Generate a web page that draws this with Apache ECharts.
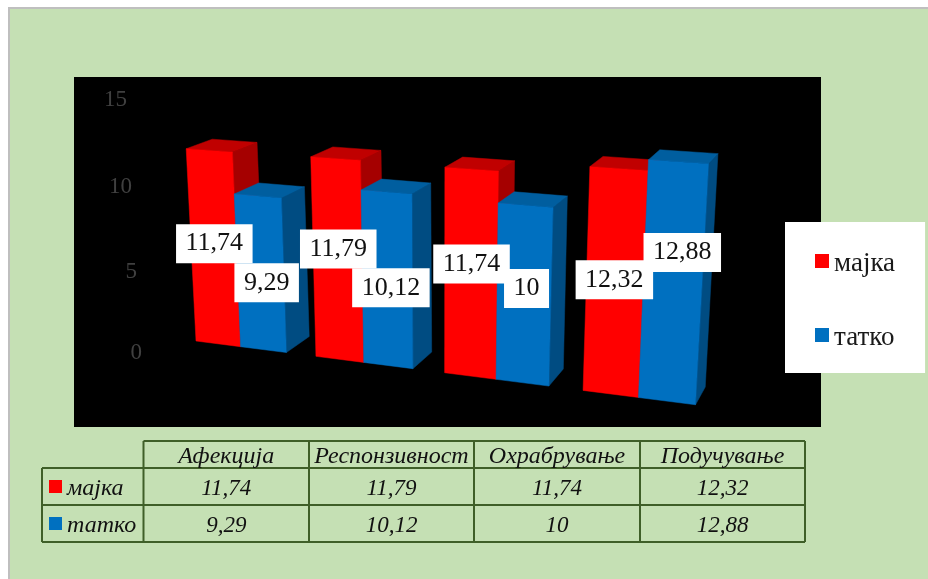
<!DOCTYPE html>
<html>
<head>
<meta charset="utf-8">
<style>html,body{margin:0;padding:0;background:#fff}#chart{width:928px;height:579px}</style>
<script src="https://cdn.jsdelivr.net/npm/echarts@6/dist/echarts.min.js"></script>
</head>
<body>
<div id="chart"></div>
<script>
// Parenting dimensions rated for mother and father
const categories = ['Афекција', 'Респонзивност', 'Охрабрување', 'Подучување'];
const seriesNames = ['мајка', 'татко'];
const motherValues = [11.74, 11.79, 11.74, 12.32];
const fatherValues = [9.29, 10.12, 10, 12.88];
const tickValues = [0, 5, 10, 15];

const RED = { front: '#FF0000', top: '#C00000', side: '#A50000' };
const BLUE = { front: '#0070C0', top: '#005E9F', side: '#004C82' };
const SERIF = '"Liberation Serif", "Times New Roman", serif';

// Camera used to turn (category position, height above the floor) into screen points
const UNIT = 84.33 / 5;
const BAR_SPAN = 0.38;
const VANISH = [1000, -150];
const DEPTH = 0.032;

function project(u, rise) {
  const d = 1 - 0.034 * u - 0.0033 * rise / UNIT;
  return [(196 + 109.2 * u - 1.45 * rise / UNIT) / d, (341 + 3.2 * u - rise) / d];
}
function toBack(p) {
  return [p[0] + (VANISH[0] - p[0]) * DEPTH, p[1] + (VANISH[1] - p[1]) * DEPTH];
}
function barCorners(api, seriesIndex) {
  const cat = api.value(0);
  const base = api.coord([cat, 0]);
  const u = (base[0] - api.coord([0, 0])[0]) / api.size([1, 0])[0] + seriesIndex * BAR_SPAN;
  const rise = base[1] - api.coord([cat, api.value(1)])[1];
  return {
    tl: project(u, rise), tr: project(u + BAR_SPAN, rise),
    bl: project(u, 0), br: project(u + BAR_SPAN, 0)
  };
}
function poly(points, fill) {
  return { type: 'polygon', shape: { points }, style: { fill, stroke: fill, lineWidth: 0.5 } };
}
function renderBar(seriesIndex, colors) {
  return function (params, api) {
    const c = barCorners(api, seriesIndex);
    const backTl = toBack(c.tl), backTr = toBack(c.tr), backBr = toBack(c.br);
    return {
      type: 'group',
      children: [
        poly([c.tr, backTr, backBr, c.br], colors.side),
        poly([c.tl, c.tr, backTr, backTl], colors.top),
        poly([c.tl, c.tr, c.br, c.bl], colors.front)
      ]
    };
  };
}

// Value tags: nudges keep neighbouring tags from covering each other
const tagNudges = [
  [[0.5, -3.5], [0.5, -10], [0.5, -8.5], [-0.5, -1.5]],
  [[6, 10], [3.5, 9], [2.5, -5.5], [9.5, -29]]
];
function renderTag(seriesIndex) {
  return function (params, api) {
    const c = barCorners(api, seriesIndex);
    const nudge = tagNudges[seriesIndex][api.value(0)];
    return {
      type: 'text',
      x: (c.tl[0] + c.tr[0] + c.bl[0] + c.br[0]) / 4 + nudge[0],
      y: (c.tl[1] + c.tr[1] + c.bl[1] + c.br[1]) / 4 + nudge[1],
      style: {
        text: String(api.value(1)).replace('.', ','),
        font: '26px ' + SERIF, fill: '#111', align: 'center', verticalAlign: 'middle',
        backgroundColor: '#fff', padding: [0, 9.5], lineHeight: 39
      }
    };
  };
}
const pairs = (values) => values.map((v, i) => [i, v]);

// Data table under the plot
const colEdges = [143.5, 309, 474, 640, 805];
const rowEdges = [441, 468, 505, 542];
const TABLE_LEFT = 42;
const LINE_COLOR = '#3F5F28';
const tableGraphics = [];
function rule(x1, y1, x2, y2) {
  tableGraphics.push({
    type: 'line', z: 1,
    shape: { x1, y1, x2, y2 },
    style: { stroke: LINE_COLOR, lineWidth: 2 }
  });
}
function cell(text, x, y, align, size) {
  tableGraphics.push({
    type: 'text', z: 1, x, y: y + 2,
    style: { text, font: 'italic ' + size + 'px ' + SERIF, fill: '#111', align, verticalAlign: 'middle' }
  });
}
rowEdges.forEach((y, i) => rule(i === 0 ? colEdges[0] : TABLE_LEFT, y, colEdges[4], y));
colEdges.forEach((x) => rule(x, rowEdges[0], x, rowEdges[3]));
rule(TABLE_LEFT, rowEdges[1], TABLE_LEFT, rowEdges[3]);
categories.forEach((name, i) => {
  const mid = (colEdges[i] + colEdges[i + 1]) / 2;
  cell(name, mid, (rowEdges[0] + rowEdges[1]) / 2, 'center', 24);
  cell(String(motherValues[i]).replace('.', ','), mid, (rowEdges[1] + rowEdges[2]) / 2, 'center', 23);
  cell(String(fatherValues[i]).replace('.', ','), mid, (rowEdges[2] + rowEdges[3]) / 2, 'center', 23);
});
[RED, BLUE].forEach((colors, i) => {
  const mid = (rowEdges[i + 1] + rowEdges[i + 2]) / 2;
  tableGraphics.push({
    type: 'rect', z: 1,
    shape: { x: 49, y: mid - 6.5, width: 13, height: 13 },
    style: { fill: colors.front }
  });
  cell(seriesNames[i], 67, mid, 'left', 24);
});

// Tick labels lean with the floor of the scene
const tickInset = { 0: 1, 5: 6, 10: 11, 15: 16 };
const tickDrop = { 0: 1, 5: 4, 10: 4, 15: 1 };
const tickRich = {};
tickValues.forEach((t) => {
  tickRich['t' + t] = {
    color: '#404040', fontSize: 23, fontFamily: SERIF,
    padding: [tickDrop[t] * 2, tickInset[t], 0, 0]
  };
});

const chart = echarts.init(document.getElementById('chart'), null, { renderer: 'canvas' });
chart.setOption({
  animation: false,
  backgroundColor: '#fff',
  graphic: [
    {
      type: 'rect', z: 0,
      shape: { x: 9, y: 8, width: 930, height: 590 },
      style: { fill: '#C5E0B4', stroke: '#BFBFBF', lineWidth: 2 }
    },
    {
      type: 'rect', z: 0,
      shape: { x: 74, y: 77, width: 747, height: 350 },
      style: { fill: '#000' }
    }
  ].concat(tableGraphics),
  grid: { left: 143, top: 99, width: 660, height: 253, containLabel: false },
  xAxis: { type: 'category', data: categories, show: false },
  yAxis: {
    type: 'value', min: 0, max: 15, interval: 5,
    axisLine: { show: false }, axisTick: { show: false }, splitLine: { show: false },
    axisLabel: {
      margin: 0,
      formatter: (v) => '{t' + v + '|' + v + '}',
      rich: tickRich
    }
  },
  legend: {
    data: seriesNames,
    left: 785, top: 222, orient: 'vertical',
    backgroundColor: '#fff',
    padding: [23, 30, 22, 30],
    itemGap: 42, itemWidth: 14, itemHeight: 14, icon: 'rect',
    selectedMode: false,
    formatter: (name) => '{n|' + name + '}',
    textStyle: {
      rich: { n: { fontFamily: SERIF, fontSize: 27, color: '#1a1a1a', lineHeight: 30, padding: [5, 0, 0, 0] } }
    }
  },
  series: [
    { type: 'custom', name: seriesNames[0], data: pairs(motherValues), renderItem: renderBar(0, RED), itemStyle: { color: RED.front }, clip: false, silent: true, z: 2 },
    { type: 'custom', name: seriesNames[1], data: pairs(fatherValues), renderItem: renderBar(1, BLUE), itemStyle: { color: BLUE.front }, clip: false, silent: true, z: 3 },
    { type: 'custom', name: 'ознаки мајка', data: pairs(motherValues), renderItem: renderTag(0), clip: false, silent: true, z: 5 },
    { type: 'custom', name: 'ознаки татко', data: pairs(fatherValues), renderItem: renderTag(1), clip: false, silent: true, z: 6 }
  ]
});
</script>
</body>
</html>
